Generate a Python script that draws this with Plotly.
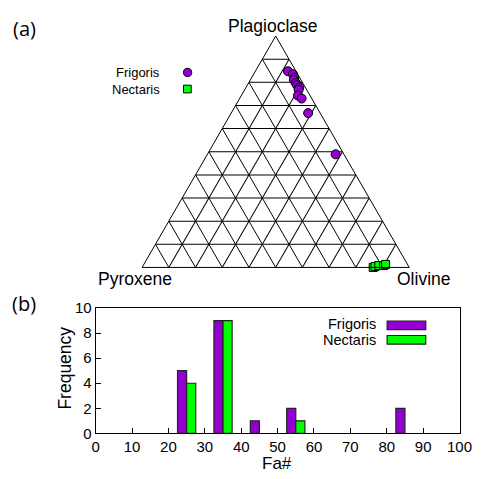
import plotly.graph_objects as go

W, H = 487, 479

# ---------------- data ----------------
# Ternary compositions (%): Plagioclase (top), Pyroxene (left), Olivine (right)
frig_plag = [84.8, 83.5, 82.0, 81.0, 79.7, 78.8, 77.8, 76.8, 74.3, 73.0, 66.7, 48.9]
frig_pyx  = [3.0, 1.8, 2.0, 2.7, 2.6, 2.6, 2.3, 3.0, 4.5, 3.8, 4.5, 3.1]
frig_ol   = [12.2, 14.7, 16.0, 16.3, 17.7, 18.6, 19.9, 20.2, 21.2, 23.2, 28.8, 48.0]

nect_plag = [0.0, 0.4, 0.8, 0.8, 1.3]
nect_pyx  = [13.5, 12.6, 11.0, 9.2, 8.2]
nect_ol   = [86.5, 87.0, 88.2, 90.0, 90.5]

# Histogram of Fa# (bin centres, counts)
fa_bins_frig = [25, 35, 45, 55, 85]
fa_counts_frig = [5, 9, 1, 2, 2]
fa_bins_nect = [25, 35, 55]
fa_counts_nect = [4, 9, 1]

series_names = ["Frigoris", "Nectaris"]
colors = ["#9400D3", "#00FF00"]

FONT = "Liberation Sans, Arial, Helvetica, sans-serif"


def px(x):
    return x / W


def py(y):
    return 1 - y / H


fig = go.Figure()

fig.add_trace(go.Scatterternary(
    a=frig_plag, b=frig_pyx, c=frig_ol, mode="markers", name=series_names[0],
    marker=dict(symbol="circle", size=9, color=colors[0], line=dict(color="black", width=1)),
    cliponaxis=False, showlegend=False))
fig.add_trace(go.Scatterternary(
    a=nect_plag, b=nect_pyx, c=nect_ol, mode="markers", name=series_names[1],
    marker=dict(symbol="square", size=8, color=colors[1], line=dict(color="black", width=1)),
    cliponaxis=False, showlegend=False))

fig.add_trace(go.Bar(x=fa_bins_frig, y=fa_counts_frig, width=2.5, offset=-2.5,
                     marker=dict(color=colors[0], line=dict(color="#222", width=1.2)),
                     name=series_names[0], showlegend=False, xaxis="x", yaxis="y"))
fig.add_trace(go.Bar(x=fa_bins_nect, y=fa_counts_nect, width=2.5, offset=0,
                     marker=dict(color=colors[1], line=dict(color="#222", width=1.2)),
                     name=series_names[1], showlegend=False, xaxis="x", yaxis="y"))

tern_axis = dict(showticklabels=False, ticks="", linecolor="black", linewidth=1,
                 gridcolor="black", gridwidth=1, showgrid=True, dtick=10, title=dict(text=""))

# triangle geometry in px
tx0, tx1 = 143.0, 420.0
tri_h = (tx1 - tx0) * 3 ** 0.5 / 2
tcy = 148.0
ty0, ty1 = tcy - tri_h / 2, tcy + tri_h / 2

fig.update_layout(
    width=W, height=H,
    margin=dict(l=0, r=0, t=0, b=0),
    paper_bgcolor="white", plot_bgcolor="white",
    font=dict(family=FONT, color="black", size=15),
    barmode="overlay",
    ternary=dict(
        sum=100,
        domain=dict(x=[px(tx0), px(tx1)], y=[py(ty1), py(ty0)]),
        bgcolor="white",
        aaxis=tern_axis, baxis=tern_axis, caxis=tern_axis,
    ),
    xaxis=dict(domain=[px(95), px(472)], range=[0, 100], dtick=10, ticks="inside", ticklen=5,
               tickcolor="black", showline=True, linecolor="black", linewidth=1, mirror=True,
               showgrid=False, zeroline=False, tickfont=dict(size=15)),
    yaxis=dict(domain=[py(440), py(310)], range=[0, 10], dtick=2, ticks="inside", ticklen=5,
               tickcolor="black", showline=True, linecolor="black", linewidth=1, mirror=True,
               showgrid=False, zeroline=False, tickfont=dict(size=15)),
    showlegend=False,
)

annotations = [
    dict(text="(a)", x=px(21), y=py(20), font=dict(size=20, family="Open Sans, sans-serif")),
    dict(text="(b)", x=px(21), y=py(305), font=dict(size=20, family="Open Sans, sans-serif")),
    dict(text="Plagioclase", x=px(279), y=py(18), font=dict(size=17.5)),
    dict(text="Pyroxene", x=px(136), y=py(280), font=dict(size=17.5)),
    dict(text="Olivine", x=px(435), y=py(280), font=dict(size=17.5)),
    dict(text="Fa#", x=px(283), y=py(471), font=dict(size=17)),
    dict(text="Frequency", x=px(63), y=py(372), textangle=-90, font=dict(size=17.5)),
    # ternary legend
    dict(text=series_names[0], x=px(164), y=py(65.5), xanchor="right", font=dict(size=13)),
    dict(text=series_names[1], x=px(164), y=py(83), xanchor="right", font=dict(size=13)),
    # histogram legend
    dict(text=series_names[0], x=px(388), y=py(327), xanchor="right", font=dict(size=14.5)),
    dict(text=series_names[1], x=px(388), y=py(343.5), xanchor="right", font=dict(size=14.5)),
]
for a in annotations:
    a.setdefault("xanchor", "center")
    a.update(xref="paper", yref="paper", yanchor="middle", showarrow=False)
fig.update_layout(annotations=annotations)

shapes = [
    dict(type="circle", x0=px(186), x1=px(194.5), y0=py(70), y1=py(61.5),
         fillcolor=colors[0], line=dict(color="black", width=1)),
    dict(type="rect", x0=px(186), x1=px(194), y0=py(87), y1=py(79),
         fillcolor=colors[1], line=dict(color="black", width=1)),
    dict(type="rect", x0=px(397), x1=px(437), y0=py(332.5), y1=py(323.5),
         fillcolor=colors[0], line=dict(color="#222", width=1.2)),
    dict(type="rect", x0=px(397), x1=px(437), y0=py(347.5), y1=py(338.5),
         fillcolor=colors[1], line=dict(color="#222", width=1.2)),
]
for s in shapes:
    s.update(xref="paper", yref="paper")
fig.update_layout(shapes=shapes)

fig.write_html(
    "out.html",
    config={"displayModeBar": False},
    post_script="document.body.style.margin='0';document.body.style.padding='0';",
)
